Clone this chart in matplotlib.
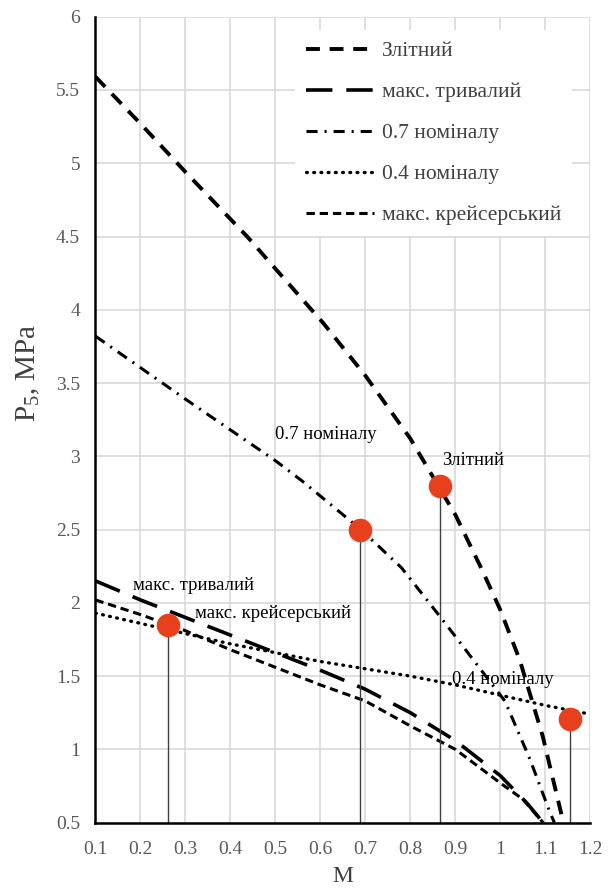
import numpy as np
import matplotlib
matplotlib.use("Agg")
import matplotlib.pyplot as plt
from matplotlib.ticker import FuncFormatter

plt.rcParams['font.family'] = ['Liberation Serif', 'DejaVu Serif']
plt.rcParams['mathtext.default'] = 'regular'
plt.rcParams['lines.scale_dashes'] = False

# Злітний
zl_m = [0.1, 0.2, 0.3, 0.437, 0.5, 0.606, 0.7, 0.8, 0.9, 0.96, 1.0, 1.043, 1.094, 1.14]
zl_p = [5.59, 5.27, 4.94, 4.50, 4.28, 3.91, 3.55, 3.12, 2.6, 2.22, 1.95, 1.61, 1.09, 0.5]
# макс. тривалий
tr_m = [0.1, 0.2, 0.3, 0.4, 0.5, 0.6, 0.7, 0.8, 0.9, 1.0, 1.06, 1.095]
tr_p = [2.15, 2.02, 1.9, 1.78, 1.66, 1.54, 1.41, 1.25, 1.06, 0.82, 0.63, 0.5]
# 0.7 номіналу
n07_m = [0.1, 0.3, 0.5, 0.56, 0.69, 0.78, 0.87, 0.95, 1.01, 1.066, 1.11, 1.12]
n07_p = [3.82, 3.39, 2.97, 2.83, 2.5, 2.24, 1.89, 1.57, 1.33, 0.93, 0.57, 0.5]
# 0.4 номіналу
n04_m = [0.1, 0.2, 0.3, 0.4, 0.5, 0.6, 0.7, 0.8, 0.9, 1.0, 1.1, 1.2]
n04_p = [1.93, 1.86, 1.79, 1.72, 1.66, 1.6, 1.55, 1.5, 1.44, 1.37, 1.3, 1.24]
# макс. крейсерський
kr_m = [0.1, 0.2, 0.3, 0.4, 0.5, 0.6, 0.7, 0.8, 0.9, 1.0, 1.05, 1.095]
kr_p = [2.02, 1.92, 1.81, 1.68, 1.56, 1.44, 1.33, 1.16, 1.0, 0.77, 0.66, 0.5]

# робочі точки
pt_m = [0.262, 0.688, 0.866, 1.155]
pt_p = [1.85, 2.5, 2.8, 1.21]

labels = ['Злітний', 'макс. тривалий', '0.7 номіналу', '0.4 номіналу', 'макс. крейсерський']

fig = plt.figure(figsize=(6.11, 8.89), dpi=100)
ax = fig.add_axes([0.1563, 0.0746, 0.81, 0.9066])

ax.plot(zl_m, zl_p, color='black', lw=2.8, dashes=(10, 7), label=labels[0])
ax.plot(tr_m, tr_p, color='black', lw=2.6, dashes=(19, 10), label=labels[1])
ax.plot(n07_m, n07_p, color='black', lw=2.2, dashes=(8, 5, 1.5, 5), label=labels[2])
ax.plot(n04_m, n04_p, color='black', lw=2.4, dashes=(0.6, 4.6), dash_capstyle='round',
        label=labels[3])
ax.plot(kr_m, kr_p, color='black', lw=2.2, dashes=(6, 3.5), label=labels[4])

# вертикальні лінії до осі
for m, p in zip(pt_m, pt_p):
    ax.plot([m, m], [0.5, p], color='#404040', lw=1.0, zorder=3)
ax.plot(pt_m, pt_p, 'o', color='#e8401c', markersize=16, zorder=5, label='_nolegend_')

fs = 13.5
ax.text(0.871, 2.97, 'Злітний', fontsize=fs, va='center', ha='left')
ax.text(0.499, 3.15, '0.7 номіналу', fontsize=fs, va='center', ha='left')
ax.text(0.183, 2.12, 'макс. тривалий', fontsize=fs, va='center', ha='left')
ax.text(0.321, 1.93, 'макс. крейсерський', fontsize=fs, va='center', ha='left')
ax.text(0.892, 1.48, '0.4 номіналу', fontsize=fs, va='center', ha='left')

ax.set_xlim(0.1, 1.2)
ax.set_ylim(0.5, 6)
ax.set_xticks(np.round(np.arange(0.1, 1.21, 0.1), 1))
ax.set_yticks(np.arange(0.5, 6.01, 0.5))
fmt = FuncFormatter(lambda v, pos: '%g' % round(v, 2))
ax.xaxis.set_major_formatter(fmt)
ax.yaxis.set_major_formatter(fmt)
ax.tick_params(labelsize=14, labelcolor='#595959', length=0)
ax.tick_params(axis='x', pad=13)
ax.tick_params(axis='y', pad=11)
ax.grid(True, color='#d9d9d9', lw=1.2)
ax.set_axisbelow(True)
for s in ['top', 'right']:
    ax.spines[s].set_visible(False)
for s in ['left', 'bottom']:
    ax.spines[s].set_linewidth(1.8)
    ax.spines[s].set_zorder(6)

ax.set_xlabel('M', fontsize=17, color='#404040', labelpad=6)
ax.set_ylabel('P$_5$, MPa', fontsize=21, color='#404040')
ax.yaxis.set_label_coords(-0.108, 0.558)

leg = ax.legend(loc='upper right', bbox_to_anchor=(0.963, 0.983), fontsize=15.5,
                handlelength=3.2, labelspacing=0.97, borderaxespad=0, borderpad=0.5,
                handletextpad=0.35, frameon=True, fancybox=False)
leg.get_frame().set_edgecolor('none')
leg.get_frame().set_facecolor('white')
leg.get_frame().set_alpha(1)
for t in leg.get_texts():
    t.set_color('#404040')

fig.savefig('out.png', dpi=100)
